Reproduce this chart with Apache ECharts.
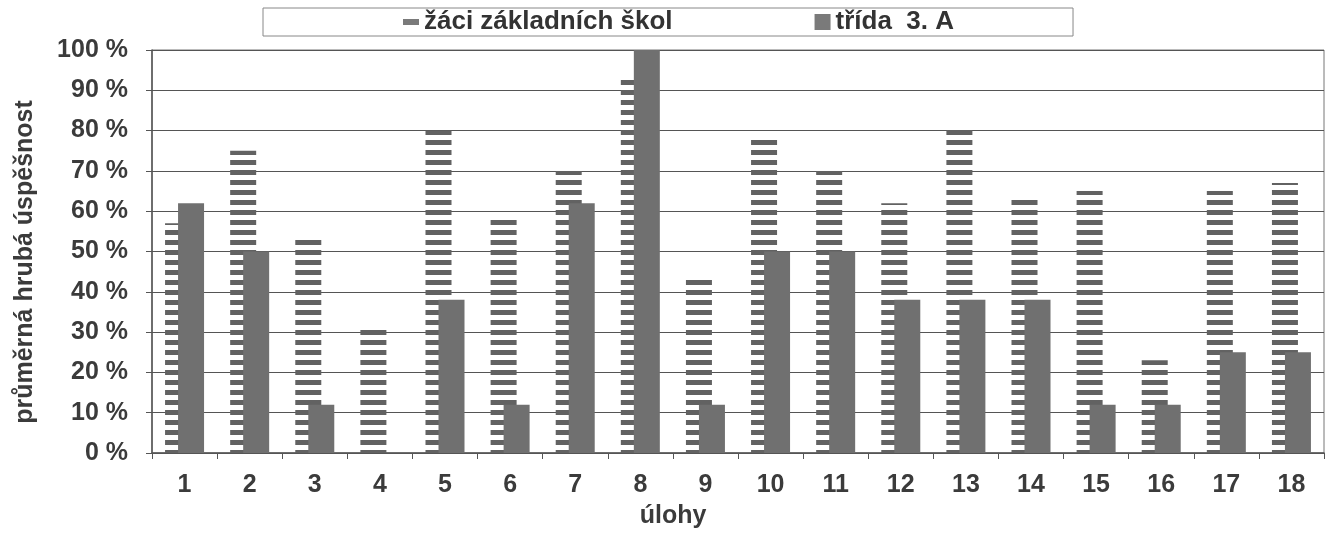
<!DOCTYPE html>
<html>
<head>
<meta charset="utf-8">
<script src="https://cdn.jsdelivr.net/npm/echarts@6/dist/echarts.min.js"></script>
<style>
html,body{margin:0;padding:0;background:#fff;}
#chart{width:1327px;height:539px;}
</style>
</head>
<body>
<div id="chart"></div>
<script>
const categories = ['1','2','3','4','5','6','7','8','9','10','11','12','13','14','15','16','17','18'];
const zakiZS = [57, 75, 54, 31, 80, 59, 70, 93, 44, 78, 70, 62, 81, 64, 65, 23, 65, 67];
const trida3A = [62, 50, 12, 0, 38, 12, 62, 100, 12, 50, 50, 38, 38, 38, 12, 12, 25, 25];
const seriesNames = ['žáci základních škol', 'třída  3. A'];
const yTicks = [0, 10, 20, 30, 40, 50, 60, 70, 80, 90, 100];
const xTitle = 'úlohy';
const yTitle = 'průměrná hrubá úspěšnost';

const textColor = '#3b3b3b';
const fontFamily = '"Liberation Sans", Arial, sans-serif';

// striped pattern
const pc = document.createElement('canvas');
pc.width = 10; pc.height = 10;
const pctx = pc.getContext('2d');
pctx.fillStyle = '#ffffff';
pctx.fillRect(0, 0, 10, 10);
pctx.fillStyle = '#626262';
pctx.fillRect(0, 0, 10, 5);

const chart = echarts.init(document.getElementById('chart'), null, {renderer: 'canvas'});
chart.setOption({
  backgroundColor: '#ffffff',
  animation: false,
  legend: {
    top: 8,
    left: 263,
    padding: [1, 119, 1, 140],
    borderColor: '#888',
    borderWidth: 1,
    itemGap: 142,
    itemWidth: 16,
    itemHeight: 16,
    textStyle: {color: '#333', fontSize: 26, fontWeight: 'bold', fontFamily},
    data: [
      {name: seriesNames[0], icon: 'path://M0,0h16v6h-16z', itemStyle: {color: '#7a7a7a'}},
      {name: seriesNames[1], icon: 'rect', itemStyle: {color: '#7a7a7a'}}
    ]
  },
  grid: {left: 152, right: 3, top: 50, bottom: 86, show: true, borderColor: '#777', borderWidth: 1},
  xAxis: {
    type: 'category',
    data: categories,
    axisLine: {lineStyle: {color: '#555', width: 1.5}},
    axisTick: {show: true, length: 6, lineStyle: {color: '#555'}},
    axisLabel: {color: textColor, fontSize: 25, fontWeight: 'bold', fontFamily, margin: 20}
  },
  yAxis: {
    type: 'value',
    min: 0, max: 100, interval: 10,
    axisLine: {show: true, lineStyle: {color: '#555', width: 1.5}},
    axisTick: {show: true, length: 6, inside: false, lineStyle: {color: '#555'}},
    axisLabel: {color: textColor, fontSize: 25, fontWeight: 'bold', fontFamily, margin: 24,
      formatter: v => yTicks.includes(v) ? v + ' %' : ''},
    splitLine: {lineStyle: {color: '#555', width: 1}}
  },
  graphic: [
    {type: 'text', x: 673, y: 516,
      style: {text: xTitle, fill: textColor, font: 'bold 25px "Liberation Sans", Arial, sans-serif',
        textAlign: 'center', textVerticalAlign: 'middle'}},
    {type: 'text', x: 25, y: 262, rotation: Math.PI / 2,
      style: {text: yTitle, fill: textColor, font: 'bold 25px "Liberation Sans", Arial, sans-serif',
        textAlign: 'center', textVerticalAlign: 'middle'}}
  ],
  series: [
    {
      name: seriesNames[0],
      type: 'bar',
      data: zakiZS,
      barWidth: 26,
      barGap: '-50%',
      itemStyle: {color: {image: pc, repeat: 'repeat'}}
    },
    {
      name: seriesNames[1],
      type: 'bar',
      data: trida3A,
      barWidth: 26,
      itemStyle: {color: '#707070'}
    }
  ]
});
</script>
</body>
</html>
